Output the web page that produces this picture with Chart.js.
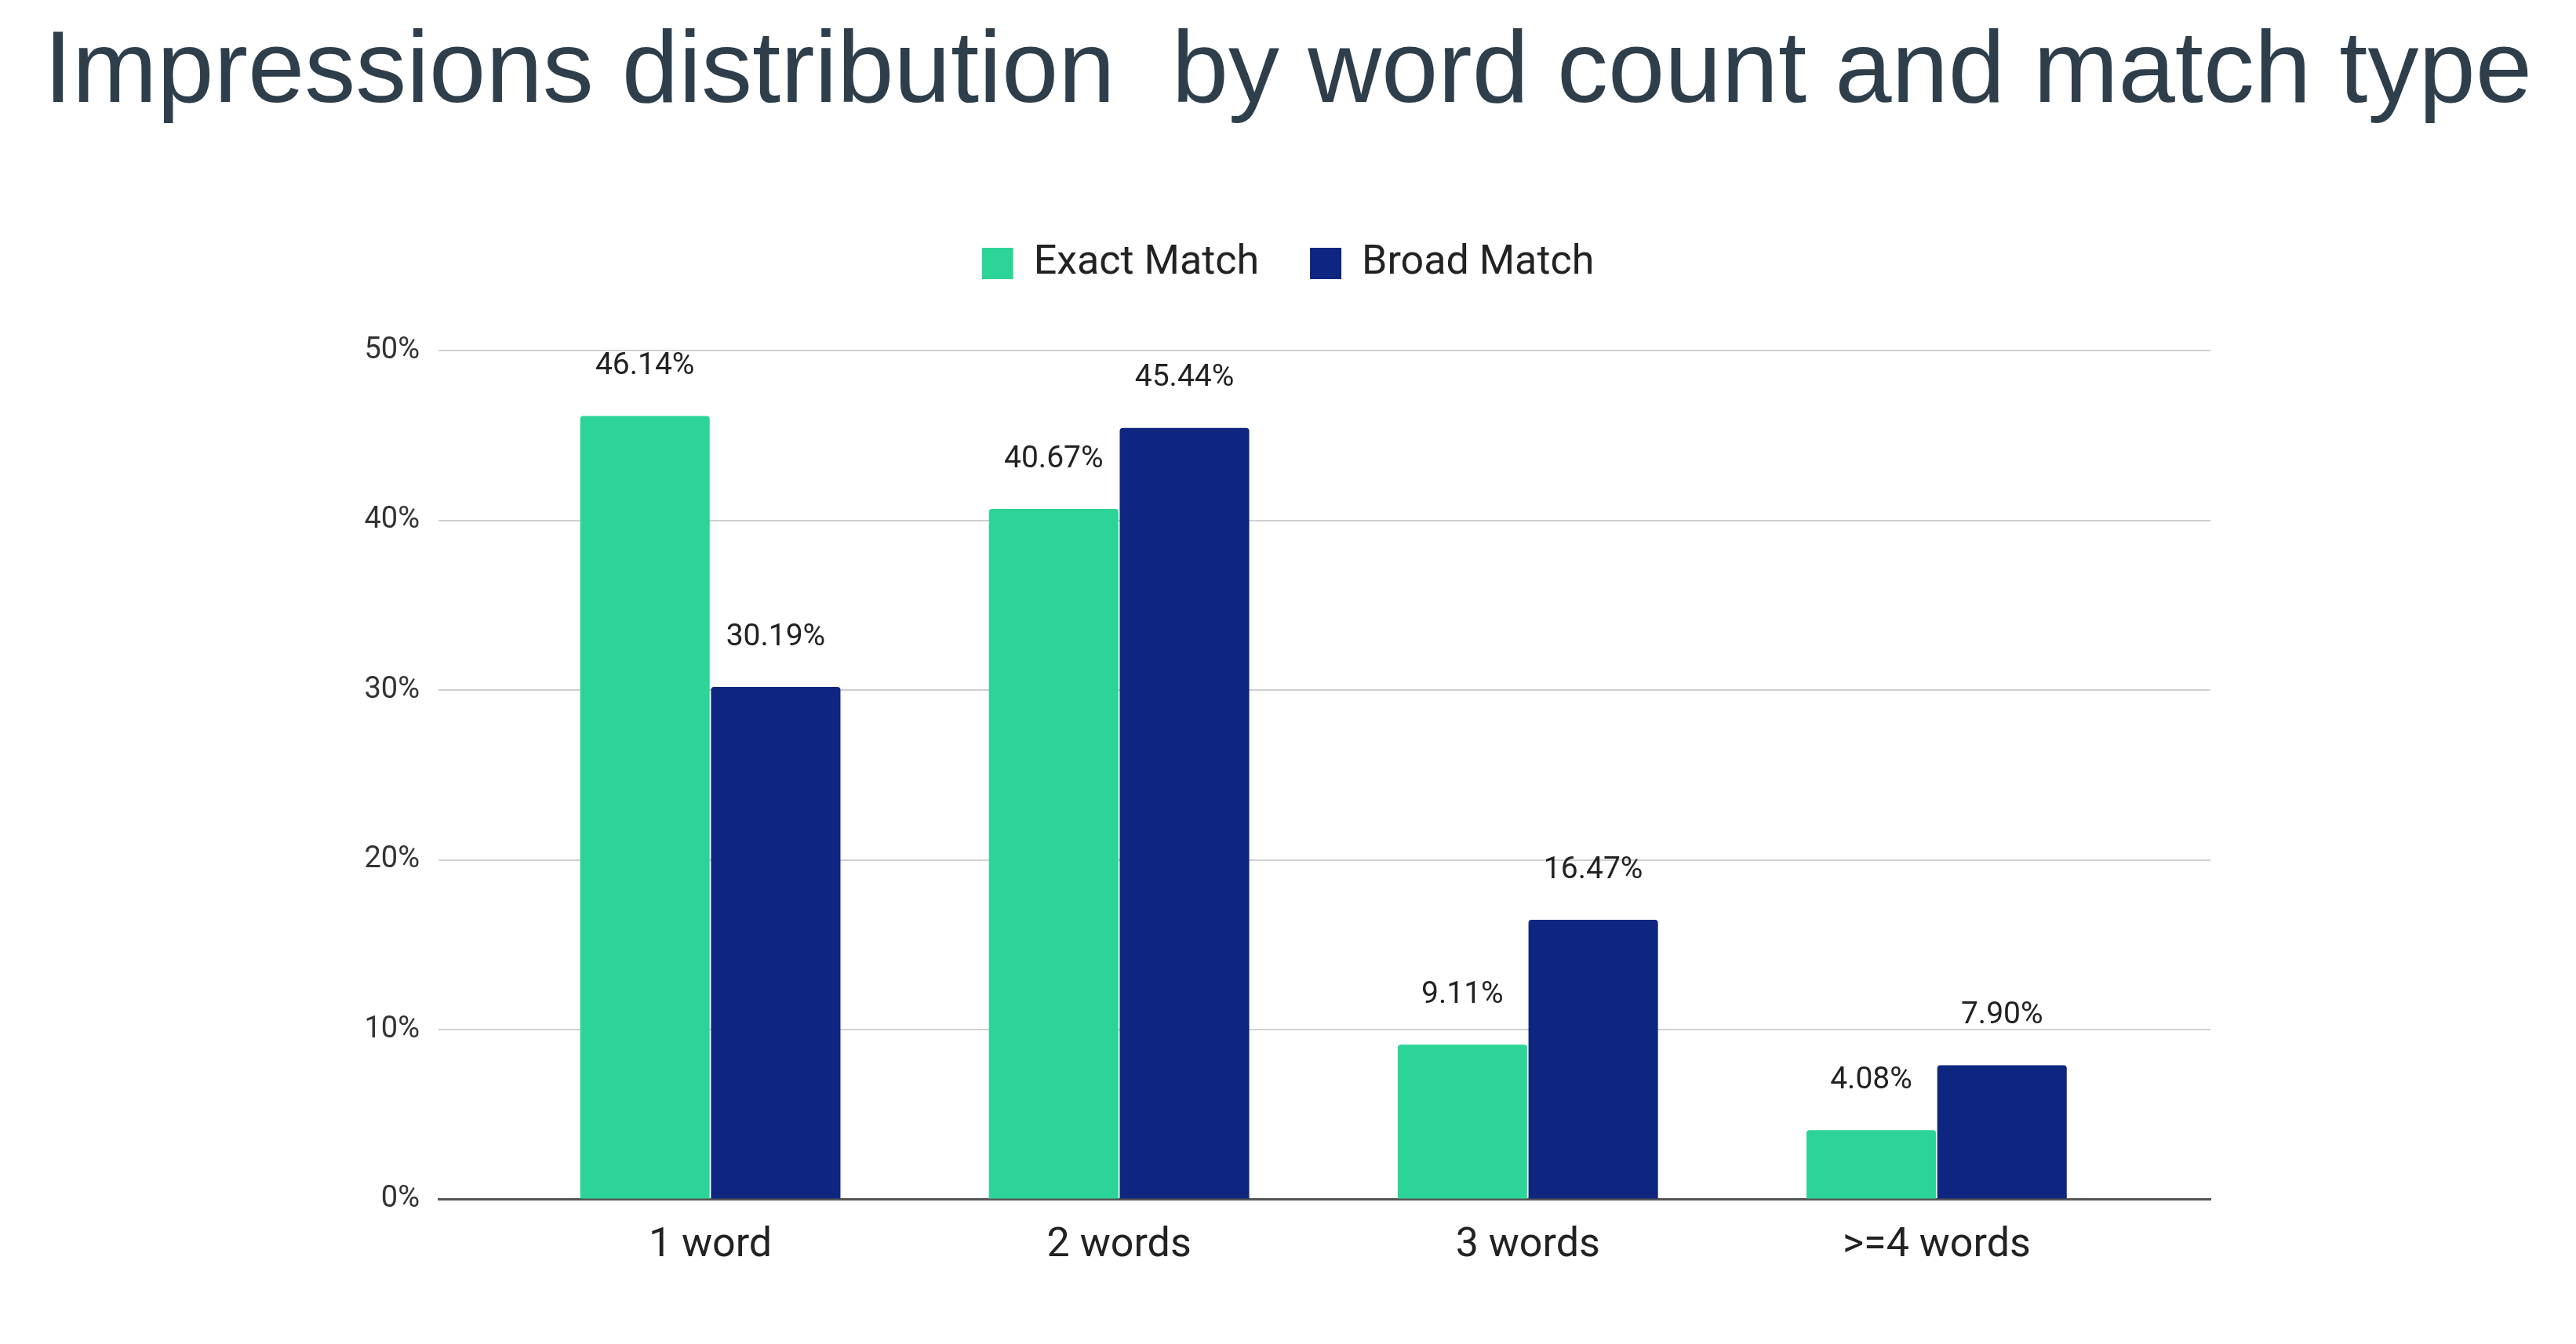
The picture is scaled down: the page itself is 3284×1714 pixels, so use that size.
<!DOCTYPE html>
<html>
<head>
<meta charset="utf-8">
<script src="https://cdn.jsdelivr.net/npm/chart.js@4"></script>
<style>
  html, body { margin: 0; padding: 0; background: #fff; }
  canvas { display: block; }
</style>
</head>
<body>
<canvas id="chart" width="3284" height="1714"></canvas>
<script>
// dados
const categorias = ['1 word', '2 words', '3 words', '>=4 words']
const exactMatch = [46.14, 40.67, 9.11, 4.08]
const broadMatch = [30.19, 45.44, 16.47, 7.90]
const yTicks = [0, 10, 20, 30, 40, 50]

const tituloGrafico = 'Impressions distribution  by word count and match type'

// rótulos com os valores em cima de cada barra
const rotulosValores = {
  id: 'rotulosValores',
  beforeInit(chart) {
    // espaço extra entre a legenda e a área do gráfico
    const fitOriginal = chart.legend.fit
    chart.legend.fit = function () {
      fitOriginal.call(this)
      this.height += 75
    }
  },
  afterDatasetsDraw(chart) {
    const ctx = chart.ctx
    ctx.save()
    ctx.font = '39px Roboto'
    ctx.fillStyle = '#222'
    ctx.textAlign = 'center'
    ctx.textBaseline = 'middle'
    chart.data.datasets.forEach((ds, i) => {
      chart.getDatasetMeta(i).data.forEach((bar, j) => {
        ctx.fillText(ds.data[j].y.toFixed(2) + '%', bar.x, bar.y - 63)
      })
    })
    ctx.restore()
  }
}

new Chart('chart', {
  type: 'bar',
  data: {
    datasets: [
      {
        label: 'Exact Match',
        data: exactMatch.map((v, i) => ({ x: i, y: v })),
        backgroundColor: '#2cd597',
        borderRadius: { topLeft: 4, topRight: 4 },
        borderSkipped: 'start'
      },
      {
        label: 'Broad Match',
        data: broadMatch.map((v, i) => ({ x: i, y: v })),
        backgroundColor: '#0f2680',
        borderRadius: { topLeft: 4, topRight: 4 },
        borderSkipped: 'start'
      }
    ]
  },
  options: {
    responsive: false,
    devicePixelRatio: 1,
    animation: false,
    categoryPercentage: 0.64,
    barPercentage: 0.99,
    layout: { padding: { left: 0, right: 0, top: 0, bottom: 66 } },
    plugins: {
      title: {
        display: true,
        text: tituloGrafico,
        color: '#2e3e4b',
        font: { family: 'Liberation Sans', size: 130, weight: 'normal', lineHeight: 1 },
        padding: { top: 29, bottom: 86 }
      },
      legend: {
        labels: {
          boxWidth: 40,
          boxHeight: 40,
          padding: 65,
          color: '#222',
          font: { family: 'Roboto', size: 52 }
        }
      },
      tooltip: { enabled: false }
    },
    scales: {
      x: {
        type: 'linear',
        min: -0.665,
        max: 3.67,
        offset: false,
        grid: { display: false, drawTicks: false },
        border: { display: true, color: '#555', width: 3 },
        afterBuildTicks: s => { s.ticks = categorias.map((c, i) => ({ value: i })) },
        ticks: {
          callback: v => categorias[v],
          autoSkip: false,
          maxRotation: 0,
          padding: 28,
          color: '#222',
          font: { family: 'Roboto', size: 52 }
        }
      },
      y: {
        min: 0,
        max: 50,
        afterFit: s => { s.width = 559 },
        grid: { color: '#d0d0d0', lineWidth: 2, drawTicks: false },
        border: { display: false },
        afterBuildTicks: s => { s.ticks = yTicks.map(v => ({ value: v })) },
        ticks: {
          callback: v => v + '%',
          padding: 24,
          color: '#333',
          font: { family: 'Roboto', size: 38 }
        }
      },
      // eixo vazio só para reservar a margem direita
      direita: {
        position: 'right',
        afterFit: s => { s.width = 466 },
        grid: { display: false, drawTicks: false },
        border: { display: false },
        ticks: { display: false }
      }
    }
  },
  plugins: [rotulosValores]
})
</script>
</body>
</html>
